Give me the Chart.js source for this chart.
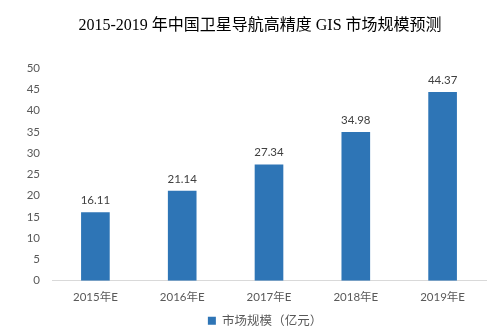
<!DOCTYPE html>
<html>
<head>
<meta charset="utf-8">
<script src="https://cdn.jsdelivr.net/npm/chart.js@4"></script>
<style>
  html, body { margin: 0; padding: 0; background: #fff; }
  #wrap { width: 490px; height: 335px; position: relative; }
</style>
</head>
<body>
<div id="wrap"><canvas id="marketChart"></canvas></div>
<script>
const years = ["2015年E", "2016年E", "2017年E", "2018年E", "2019年E"];
const marketSize = [16.11, 21.14, 27.34, 34.98, 44.37];
const seriesName = "市场规模（亿元）";
const chartTitle = "2015-2019 年中国卫星导航高精度 GIS 市场规模预测";

const tickFont = "'Lato', 'Noto Sans CJK SC', sans-serif";

// draws the value over each bar, plus the title (sits a bit right of centre in the original)
const barValues = {
  id: "barValues",
  afterLayout(chart) {
    // legend in the original is centred on the plot, not the canvas
    chart.legend.left += 22;
    chart.legend.right += 22;
  },
  afterDatasetsDraw(chart) {
    const ctx = chart.ctx;
    const meta = chart.getDatasetMeta(0);
    ctx.save();
    ctx.fillStyle = "#404040";
    ctx.font = "11.5px " + tickFont;
    ctx.textAlign = "center";
    ctx.textBaseline = "bottom";
    meta.data.forEach((bar, i) => {
      ctx.fillText(marketSize[i].toFixed(2), bar.x, bar.y - 6);
    });

    ctx.fillStyle = "#000";
    ctx.font = "16px 'Liberation Serif', 'Noto Sans CJK SC', serif";
    ctx.textBaseline = "middle";
    ctx.fillText(chartTitle, 260, 26);
    ctx.restore();
  }
};

const ctx = document.getElementById("marketChart").getContext("2d");

new Chart(ctx, {
  type: "bar",
  data: {
    labels: years,
    datasets: [{
      label: seriesName,
      data: marketSize,
      backgroundColor: "#2E75B6",
      barPercentage: 0.33,
      categoryPercentage: 1
    }]
  },
  options: {
    responsive: true,
    maintainAspectRatio: false,
    animation: false,
    layout: { padding: { top: 68, left: 0, right: 4, bottom: -2 } },
    scales: {
      x: {
        grid: { display: false, drawTicks: false },
        border: { display: true, color: "#D9D9D9", width: 1 },
        ticks: {
          color: "#595959",
          font: { family: tickFont, size: 11.5 },
          padding: 10
        }
      },
      y: {
        min: 0,
        max: 50,
        afterFit: scale => { scale.width = 52; },
        grid: { display: false, drawTicks: false },
        border: { display: false },
        ticks: {
          stepSize: 5,
          color: "#595959",
          font: { family: tickFont, size: 11.5 },
          padding: 12
        }
      }
    },
    plugins: {
      title: { display: false },
      legend: {
        position: "bottom",
        labels: {
          color: "#595959",
          font: { family: tickFont, size: 12.5 },
          boxWidth: 8,
          boxHeight: 8,
          padding: 0
        }
      },
      tooltip: { enabled: false }
    }
  },
  plugins: [barValues]
});
</script>
</body>
</html>
